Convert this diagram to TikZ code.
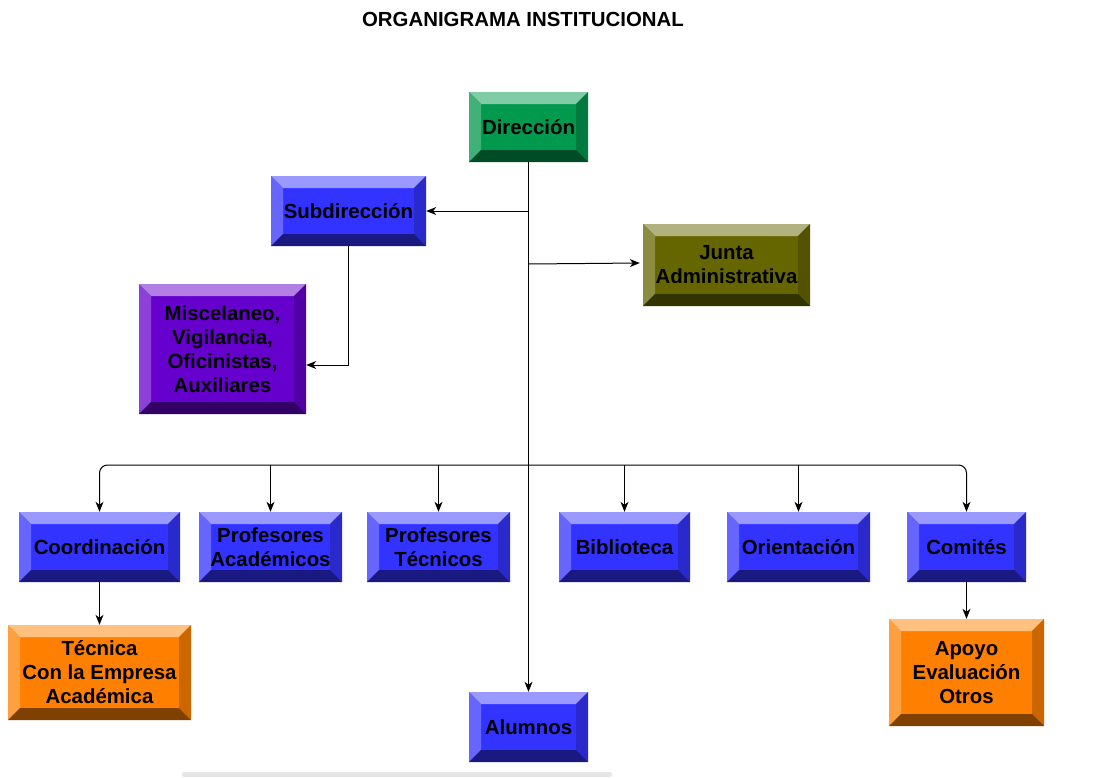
\documentclass[tikz,border=0pt]{standalone}
\usepackage{fontspec}
\setmainfont{Liberation Sans}
\usetikzlibrary{arrows.meta}
\definecolor{cgreen}{HTML}{00994D}
\definecolor{cblue}{HTML}{3333FF}
\definecolor{colive}{HTML}{666600}
\definecolor{cpurple}{HTML}{6600CC}
\definecolor{corange}{HTML}{FF8000}
\definecolor{cbar}{HTML}{E6E6E6}
\begin{document}
\begin{tikzpicture}[x=1pt,y=-1pt,
  lbl/.style={font=\bfseries\fontsize{20.4}{24}\selectfont, text=black},
  bev/.style={lbl, draw=none, fill=#1, inner sep=0pt, align=center,
    path picture={
      \fill[#1!50!white] (path picture bounding box.north west) -- (path picture bounding box.north east)
        -- ([shift={(-12,12)}]path picture bounding box.north east) -- ([shift={(12,12)}]path picture bounding box.north west) -- cycle;
      \fill[#1!75!white] (path picture bounding box.north west) -- ([shift={(12,12)}]path picture bounding box.north west)
        -- ([shift={(12,-12)}]path picture bounding box.south west) -- (path picture bounding box.south west) -- cycle;
      \fill[#1!80!black] (path picture bounding box.north east) -- ([shift={(-12,12)}]path picture bounding box.north east)
        -- ([shift={(-12,-12)}]path picture bounding box.south east) -- (path picture bounding box.south east) -- cycle;
      \fill[#1!50!black] (path picture bounding box.south west) -- ([shift={(12,-12)}]path picture bounding box.south west)
        -- ([shift={(-12,-12)}]path picture bounding box.south east) -- (path picture bounding box.south east) -- cycle;
    }},
  arr/.style={line width=1pt, -{Stealth[length=10pt,width=8pt,inset=3pt]}}
]
\useasboundingbox (0,0) rectangle (1117,777);
\fill[white] (0,0) rectangle (1117,777);
\fill[cbar, rounded corners=2pt] (182,772) rectangle (612,777);

\node[lbl] (title) at (523,19) {ORGANIGRAMA INSTITUCIONAL};

\node[bev=cgreen, minimum width=119pt, minimum height=70pt] (dir) at (528.5,127) {Dirección};
\node[bev=cblue, minimum width=155pt, minimum height=70pt] (sub) at (348.5,211) {Subdirección};
\node[bev=colive, minimum width=167pt, minimum height=82pt] (junta) at (726.5,265) {Junta\\Administrativa};
\node[bev=cpurple, minimum width=167pt, minimum height=130pt] (misc) at (222.5,349) {Miscelaneo,\\Vigilancia,\\Oficinistas,\\Auxiliares};
\node[bev=cblue, minimum width=161pt, minimum height=70pt] (coord) at (99.5,547) {Coordinación};
\node[bev=cblue, minimum width=143pt, minimum height=70pt] (pacad) at (270.5,547) {Profesores\\Académicos};
\node[bev=cblue, minimum width=143pt, minimum height=70pt] (ptec) at (438.5,547) {Profesores\\Técnicos};
\node[bev=cblue, minimum width=131pt, minimum height=70pt] (bib) at (624.5,547) {Biblioteca};
\node[bev=cblue, minimum width=143pt, minimum height=70pt] (ori) at (798.5,547) {Orientación};
\node[bev=cblue, minimum width=119pt, minimum height=70pt] (com) at (966.5,547) {Comités};
\node[bev=corange, minimum width=183pt, minimum height=95pt] (tec) at (99.5,672.5) {Técnica\\Con la Empresa\\Académica};
\node[bev=corange, minimum width=155pt, minimum height=107pt] (apoyo) at (966.5,672.5) {Apoyo\\Evaluación\\Otros};
\node[bev=cblue, minimum width=119pt, minimum height=70pt] (alum) at (528.5,727) {Alumnos};

\coordinate (bus) at (528.5,465);
\coordinate (miscin) at ([yshift=-16pt]misc.east);
\draw[arr] (dir.south) -- (alum.north);
\draw[arr] (dir.south |- sub.east) -- (sub.east);
\draw[arr] ([yshift=1pt]dir.south |- junta.west) -- ([xshift=-3pt,yshift=2pt]junta.west);
\draw[arr] (sub.south) |- (miscin);
\draw[arr, rounded corners=8pt] (bus) -| (coord.north);
\draw[arr, rounded corners=8pt] (bus) -| (com.north);
\draw[arr] (bus -| pacad.north) -- (pacad.north);
\draw[arr] (bus -| ptec.north) -- (ptec.north);
\draw[arr] (bus -| bib.north) -- (bib.north);
\draw[arr] (bus -| ori.north) -- (ori.north);
\draw[arr] (coord.south) -- (tec.north);
\draw[arr] (com.south) -- (apoyo.north);
\end{tikzpicture}
\end{document}
